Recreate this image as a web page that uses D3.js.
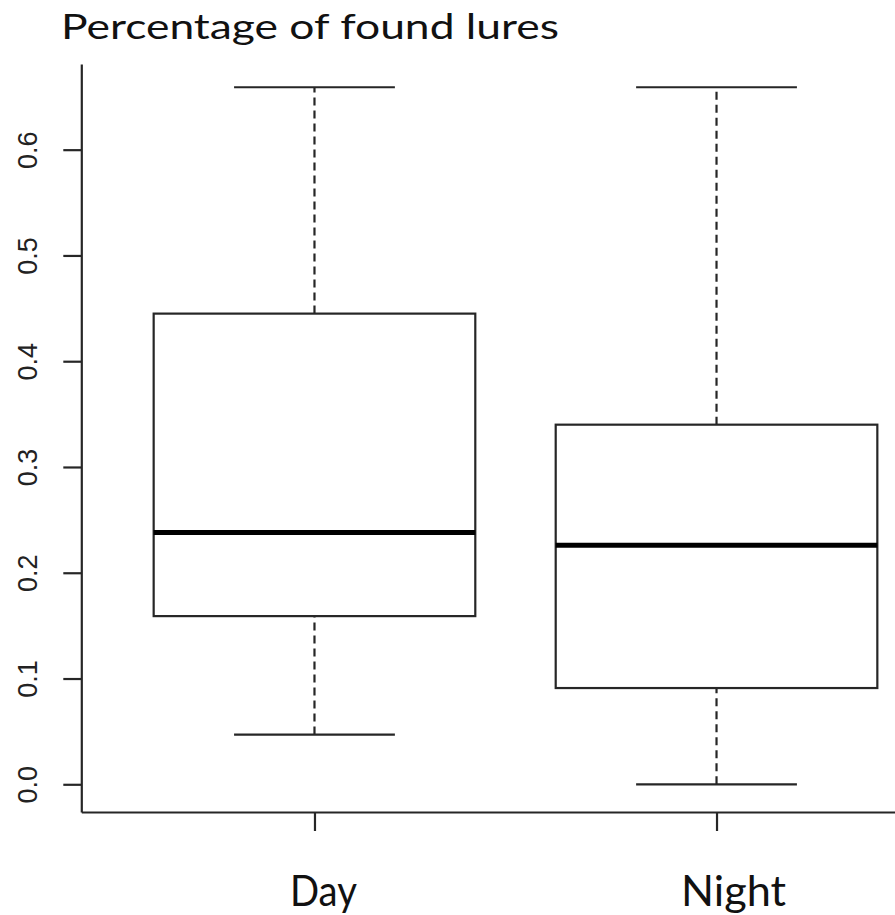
<!DOCTYPE html>
<html>
<head>
<meta charset="utf-8">
<script src="https://cdn.jsdelivr.net/npm/d3@7/dist/d3.min.js"></script>
<style>
  html, body { margin: 0; padding: 0; background: #fff; }
  svg { display: block; }
</style>
</head>
<body>
<script>
// ---- data ----
const categories   = ["Day", "Night"];
const whiskerLow   = [0.047, 0.000];
const q1           = [0.159, 0.091];
const medians      = [0.238, 0.226];
const q3           = [0.445, 0.340];
const whiskerHigh  = [0.659, 0.659];
const yTickValues  = [0.0, 0.1, 0.2, 0.3, 0.4, 0.5, 0.6];
const titleText    = "Percentage of found lures";

const W = 895, H = 915;
const svg = d3.select("body").append("svg").attr("width", W).attr("height", H);

const x = d3.scaleLinear().domain([0.42, 2.58]).range([81.3, 949.7]);
const y = d3.scaleLinear().domain([-0.0262, 0.681]).range([812, 64]);

const lineCol = "#262626";
const sw = 2.2;
const boxHalf = 0.4, capHalf = 0.2;

// y axis
const yAxis = svg.append("g")
  .attr("transform", `translate(${x(0.42)},0)`)
  .call(d3.axisLeft(y).tickValues(yTickValues).tickFormat(d3.format(".1f"))
        .tickSize(18).tickSizeOuter(0));
yAxis.select(".domain").attr("stroke", lineCol).attr("stroke-width", sw);
yAxis.selectAll(".tick line").attr("stroke", lineCol).attr("stroke-width", sw);
yAxis.selectAll(".tick text")
  .attr("transform", "rotate(-90)")
  .attr("x", 0).attr("y", -44).attr("dy", 0)
  .attr("text-anchor", "middle")
  .attr("fill", "#222")
  .style("font-family", "'Liberation Sans', Arial, sans-serif")
  .style("font-size", "27px");

// x axis
const xAxis = svg.append("g")
  .attr("transform", `translate(0,${y(-0.0262)})`)
  .call(d3.axisBottom(x).tickValues([1, 2]).tickFormat("")
        .tickSize(19).tickSizeOuter(0));
xAxis.select(".domain").attr("stroke", lineCol).attr("stroke-width", sw);
xAxis.selectAll(".tick line").attr("stroke", lineCol).attr("stroke-width", sw);

// boxes
const data = categories.map((c, i) => ({
  c, pos: i + 1, lo: whiskerLow[i], q1: q1[i], med: medians[i], q3: q3[i], hi: whiskerHigh[i]
}));

const g = svg.append("g");
const b = g.selectAll("g.box").data(data).join("g").attr("class", "box");

// whiskers (dashed)
b.append("line")
  .attr("x1", d => x(d.pos)).attr("x2", d => x(d.pos))
  .attr("y1", d => y(d.q3)).attr("y2", d => y(d.hi))
  .attr("stroke", lineCol).attr("stroke-width", sw).attr("stroke-dasharray", "8,5");
b.append("line")
  .attr("x1", d => x(d.pos)).attr("x2", d => x(d.pos))
  .attr("y1", d => y(d.lo)).attr("y2", d => y(d.q1))
  .attr("stroke", lineCol).attr("stroke-width", sw).attr("stroke-dasharray", "8,5");
// caps
b.append("line")
  .attr("x1", d => x(d.pos - capHalf)).attr("x2", d => x(d.pos + capHalf))
  .attr("y1", d => y(d.hi)).attr("y2", d => y(d.hi))
  .attr("stroke", lineCol).attr("stroke-width", sw);
b.append("line")
  .attr("x1", d => x(d.pos - capHalf)).attr("x2", d => x(d.pos + capHalf))
  .attr("y1", d => y(d.lo)).attr("y2", d => y(d.lo))
  .attr("stroke", lineCol).attr("stroke-width", sw);
// box
b.append("rect")
  .attr("x", d => x(d.pos - boxHalf))
  .attr("width", d => x(d.pos + boxHalf) - x(d.pos - boxHalf))
  .attr("y", d => y(d.q3))
  .attr("height", d => y(d.q1) - y(d.q3))
  .attr("fill", "#fff").attr("stroke", lineCol).attr("stroke-width", sw);
// median
b.append("line")
  .attr("x1", d => x(d.pos - boxHalf)).attr("x2", d => x(d.pos + boxHalf))
  .attr("y1", d => y(d.med)).attr("y2", d => y(d.med))
  .attr("stroke", "#000").attr("stroke-width", 5);

// category labels
const labelDx = [9, 17];
const labelW = [67, 105];
svg.selectAll("text.cat").data(data).join("text").attr("class", "cat")
  .attr("x", (d, i) => x(d.pos) + labelDx[i])
  .attr("y", 906)
  .attr("text-anchor", "middle")
  .attr("textLength", (d, i) => labelW[i])
  .attr("lengthAdjust", "spacingAndGlyphs")
  .style("font-family", "Lato, 'Open Sans', sans-serif")
  .style("font-size", "42px")
  .attr("fill", "#111")
  .text(d => d.c);

// title
svg.append("text")
  .attr("x", 61).attr("y", 39)
  .attr("textLength", 498)
  .attr("lengthAdjust", "spacingAndGlyphs")
  .style("font-family", "Lato, 'Open Sans', sans-serif")
  .style("font-size", "35px")
  .attr("fill", "#111")
  .text(titleText);
</script>
</body>
</html>
